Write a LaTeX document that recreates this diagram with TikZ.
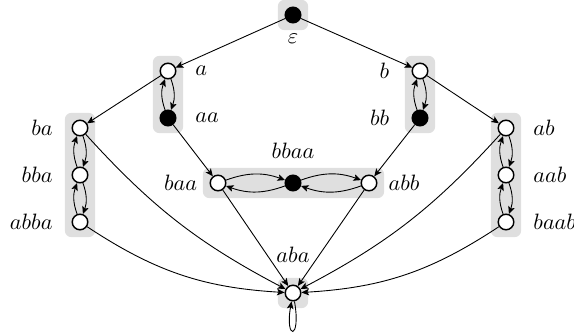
\documentclass[tikz,border=0pt]{standalone}
\usetikzlibrary{arrows.meta, positioning, fit, backgrounds}

\begin{document}
\begin{tikzpicture}[x=0.45pt, y=-0.45pt,
        wst/.style={circle, draw, fill=white, line width=0.65pt, minimum size=7pt, inner sep=0pt},
        bst/.style={wst, fill=black},
        conn/.style={-{Stealth[length=3.4pt, width=3pt, inset=0.8pt]}, line width=0.4pt},
        lbl/.style={inner sep=3.33pt},
        grp/.style={rounded corners=3pt, fill=gray!25, inner sep=3pt}
      ]
        \useasboundingbox (0,0) rectangle (574,333);
        % states
        \node[bst] (eps)  at (293, 15)  {};
        \node[wst] (a)    at (168, 71)  {};
        \node[bst] (aa)   at (168,118)  {};
        \node[wst] (b)    at (420, 71)  {};
        \node[bst] (bb)   at (420,118)  {};
        \node[wst] (ba)   at ( 80,128)  {};
        \node[wst] (bba)  at ( 80,175)  {};
        \node[wst] (abba) at ( 80,222)  {};
        \node[wst] (ab)   at (506,128)  {};
        \node[wst] (aab)  at (506,175)  {};
        \node[wst] (baab) at (506,222)  {};
        \node[wst] (baa)  at (218,183)  {};
        \node[bst] (bbaa) at (293,183)  {};
        \node[wst] (abb)  at (369,183)  {};
        \node[wst] (aba)  at (293,293)  {};
        % classes
        \begin{scope}[on background layer]
          \node[grp, fit=(eps)] (g0) {};
          \node[grp, fit=(a)(aa)] (g1) {};
          \node[grp, fit=(b)(bb)] (g2) {};
          \node[grp, fit=(ba)(abba)] (g3) {};
          \node[grp, fit=(ab)(baab)] (g4) {};
          \node[grp, fit=(baa)(abb)] (g5) {};
          \node[grp, fit=(aba)] (g6) {};
        \end{scope}
        % labels
        \node[lbl, below=1.3pt of eps]  (leps)  {$\varepsilon$};
        \node[lbl, right=5pt of a]      (la)    {$a$};
        \node[lbl, right=5pt of aa]     (laa)   {$aa$};
        \node[lbl, left=6.5pt of b]     (lb)    {$b$};
        \node[lbl, left=6.5pt of bb]    (lbb)   {$bb$};
        \node[lbl, left=5pt of ba]      (lba)   {$ba$};
        \node[lbl, left=5pt of bba]     (lbba)  {$bba$};
        \node[lbl, left=5pt of abba]    (labba) {$abba$};
        \node[lbl, right=5pt of ab]     (lab)   {$ab$};
        \node[lbl, right=5pt of aab]    (laab)  {$aab$};
        \node[lbl, right=5pt of baab]   (lbaab) {$baab$};
        \node[lbl, left=2pt of baa]     (lbaa)  {$baa$};
        \node[lbl, above=3.5pt of bbaa] (lbbaa) {$bbaa$};
        \node[lbl, right=1.5pt of abb]  (labb)  {$abb$};
        \node[lbl, above=6.5pt of aba]  (laba)  {$aba$};
        % transitions
        \foreach \s/\t in {eps/a, eps/b, a/ba, b/ab, aa/baa, bb/abb, baa/aba, abb/aba}
          { \draw[conn] (\s) -- (\t); }
        \foreach \s/\t in {a/aa, aa/a, b/bb, bb/b, ba/bba, bba/ba, bba/abba, abba/bba,
                           ab/aab, aab/ab, aab/baab, baab/aab, baa/bbaa, bbaa/baa, bbaa/abb, abb/bbaa}
          { \draw[conn] (\s) to[bend left=20] (\t); }
        \draw[conn] (ba) to[bend right=10] (aba);
        \draw[conn] (abba) to[bend right=15] (aba);
        \draw[conn] (ab) to[bend left=10] (aba);
        \draw[conn] (baab) to[bend left=15] (aba);
        \draw[conn] (aba) to[out=-80, in=-100, min distance=6.3mm] (aba);
      \end{tikzpicture}
\end{document}
